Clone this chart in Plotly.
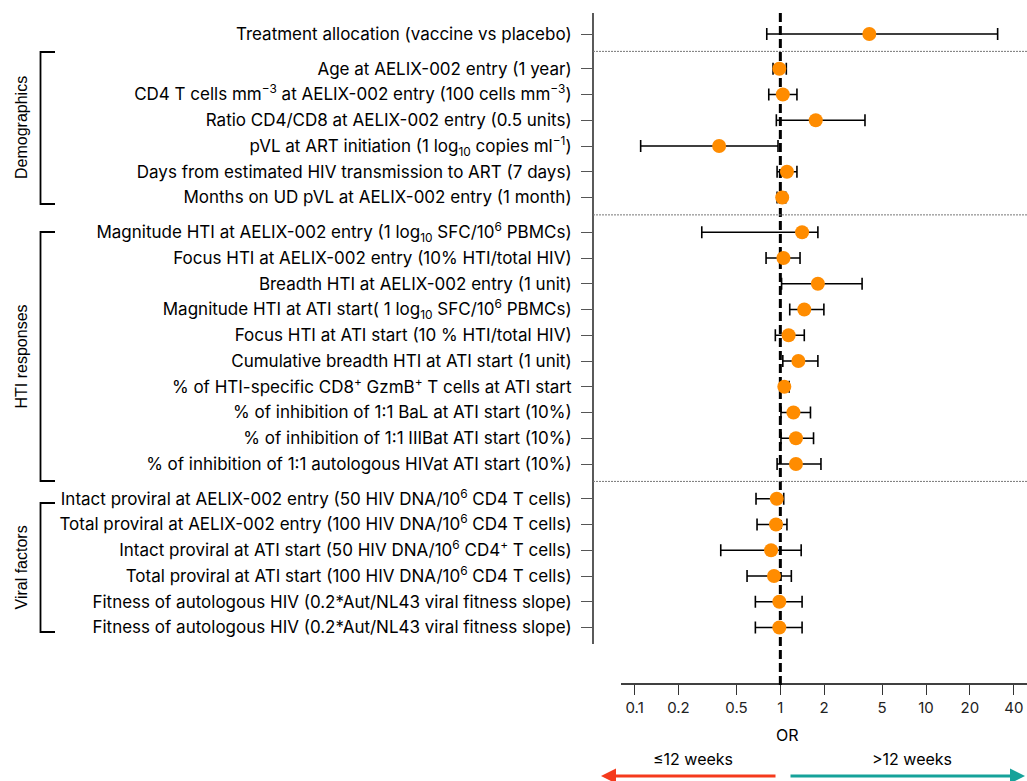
import numpy as np
import plotly.graph_objects as go

labels = [
    "Treatment allocation (vaccine vs placebo)",
    "Age at AELIX-002 entry (1 year)",
    "CD4 T cells mm<sup>−3</sup> at AELIX-002 entry (100 cells mm<sup>−3</sup>)",
    "Ratio CD4/CD8 at AELIX-002 entry (0.5 units)",
    "pVL at ART initiation (1 log<sub>10</sub> copies ml<sup>−1</sup>)",
    "Days from estimated HIV transmission to ART (7 days)",
    "Months on UD pVL at AELIX-002 entry (1 month)",
    "Magnitude HTI at AELIX-002 entry (1 log<sub>10</sub> SFC/10<sup>6</sup> PBMCs)",
    "Focus HTI at AELIX-002 entry (10% HTI/total HIV)",
    "Breadth HTI at AELIX-002 entry (1 unit)",
    "Magnitude HTI at ATI start( 1 log<sub>10</sub> SFC/10<sup>6</sup> PBMCs)",
    "Focus HTI at ATI start (10 % HTI/total HIV)",
    "Cumulative breadth HTI at ATI start (1 unit)",
    "% of HTI-specific CD8<sup>+</sup> GzmB<sup>+</sup> T cells at ATI start",
    "% of inhibition of 1:1 BaL at ATI start (10%)",
    "% of inhibition of 1:1 IIIBat ATI start (10%)",
    "% of inhibition of 1:1 autologous HIVat ATI start (10%)",
    "Intact proviral at AELIX-002 entry (50 HIV DNA/10<sup>6</sup> CD4 T cells)",
    "Total proviral at AELIX-002 entry (100 HIV DNA/10<sup>6</sup> CD4 T cells)",
    "Intact proviral at ATI start (50 HIV DNA/10<sup>6</sup> CD4<sup>+</sup> T cells)",
    "Total proviral at ATI start (100 HIV DNA/10<sup>6</sup> CD4 T cells)",
    "Fitness of autologous HIV (0.2*Aut/NL43 viral fitness slope)",
    "Fitness of autologous HIV (0.2*Aut/NL43 viral fitness slope)",
]
groups = ["Treatment"] + ["Demographics"] * 6 + ["HTI responses"] * 10 + ["Viral factors"] * 6

odds_ratio = [4.08, 0.984, 1.04, 1.75, 0.38, 1.11, 1.03,
              1.41, 1.05, 1.81, 1.46, 1.14, 1.33, 1.065, 1.23, 1.28, 1.28,
              0.945, 0.934, 0.864, 0.905, 0.984, 0.984]
ci_low = [0.807, 0.891, 0.833, 0.939, 0.110, 0.95, 0.95,
          0.289, 0.798, 1.02, 1.16, 0.924, 1.04, 1.0, 1.01, 1.01, 0.95,
          0.681, 0.692, 0.390, 0.591, 0.674, 0.674]
ci_high = [31.0, 1.099, 1.30, 3.81, 0.964, 1.30, 1.09,
           1.81, 1.365, 3.64, 1.99, 1.46, 1.81, 1.15, 1.61, 1.69, 1.90,
           1.055, 1.11, 1.39, 1.19, 1.41, 1.41]

x_ticks = [0.1, 0.2, 0.5, 1, 2, 5, 10, 20, 40]
x_ticktext = ["0.1", "0.2", "0.5", "1", "2", "5", "10", "20", "40"]

# row positions (with extra gap between groups)
GAP = 1.35
ypos = []
cur = 0.0
for i, g in enumerate(groups):
    if i > 0:
        cur += GAP if g != groups[i - 1] else 1.0
    ypos.append(cur)

orange = "#FF8C00"
LABEL_FONT = "Inter"

fig = go.Figure()

fig.add_trace(go.Scatter(
    x=odds_ratio, y=ypos, mode="markers",
    marker=dict(color=orange, size=14, line=dict(width=0)),
    error_x=dict(type="data", symmetric=False,
                 array=[h - o for h, o in zip(ci_high, odds_ratio)],
                 arrayminus=[o - l for o, l in zip(odds_ratio, ci_low)],
                 color="black", thickness=1.6, width=6),
    showlegend=False, hoverinfo="skip",
))

W_PLOT = 1027 - 593
H_PLOT = 684 - 13

def px_x(px):
    return (px - 593) / W_PLOT

def px_y(py):
    return (684 - py) / H_PLOT

shapes = []
# reference line at OR = 1
shapes.append(dict(type="line", xref="x", yref="paper", x0=1, x1=1, y0=px_y(685), y1=1,
                   line=dict(color="black", width=3, dash="9px,4px"), layer="below"))
# y axis line (shortened)
shapes.append(dict(type="line", xref="paper", yref="paper", x0=0, x1=0, y0=px_y(644), y1=1,
                   line=dict(color="black", width=1.3)))
# x axis line (starts right of y axis)
shapes.append(dict(type="line", xref="paper", yref="paper", x0=px_x(621), x1=1, y0=0, y1=0,
                   line=dict(color="black", width=1.3)))
# dotted separators between groups
for i in range(1, len(groups)):
    if groups[i] != groups[i - 1]:
        ym = (ypos[i] + ypos[i - 1]) / 2
        shapes.append(dict(type="line", xref="paper", yref="y", x0=0, x1=1, y0=ym, y1=ym,
                           line=dict(color="#777777", width=1, dash="2px,1px")))

# group brackets
bx0, bx1 = px_x(40.5), px_x(55)
brackets = {"Demographics": (52, 204), "HTI responses": (232, 481), "Viral factors": (503, 632)}
for name, (t, b) in brackets.items():
    shapes.append(dict(type="path", xref="paper", yref="paper",
                       path=f"M {bx1} {px_y(t)} L {bx0} {px_y(t)} L {bx0} {px_y(b)} L {bx1} {px_y(b)}",
                       line=dict(color="black", width=1.8)))

annotations = []
for name, (t, b) in brackets.items():
    annotations.append(dict(text=name, xref="paper", yref="paper", x=px_x(21), y=px_y((t + b) / 2),
                            showarrow=False, textangle=-90, xanchor="center", yanchor="middle",
                            font=dict(family="Liberation Sans, Arial", size=16, color="black")))

annotations.append(dict(text="OR", xref="paper", yref="paper", x=px_x(787), y=px_y(735),
                        showarrow=False, xanchor="center", yanchor="middle",
                        font=dict(family=LABEL_FONT, size=16, color="black")))
annotations.append(dict(text="≤12 weeks", xref="paper", yref="paper", x=px_x(693), y=px_y(759),
                        showarrow=False, xanchor="center", yanchor="middle",
                        font=dict(family=LABEL_FONT, size=16, color="black")))
annotations.append(dict(text=">12 weeks", xref="paper", yref="paper", x=px_x(912), y=px_y(759),
                        showarrow=False, xanchor="center", yanchor="middle",
                        font=dict(family=LABEL_FONT, size=16, color="black")))
# arrows
annotations.append(dict(text="", xref="paper", yref="paper", x=px_x(601), y=px_y(776),
                        ax=777 - 601, ay=0, showarrow=True, arrowhead=2, arrowsize=1,
                        arrowwidth=3, arrowcolor="#F53A1C"))
annotations.append(dict(text="", xref="paper", yref="paper", x=px_x(1025), y=px_y(776),
                        ax=789 - 1025, ay=0, showarrow=True, arrowhead=2, arrowsize=1,
                        arrowwidth=3, arrowcolor="#16A29A"))

fig.update_layout(
    width=1027, height=781,
    margin=dict(l=593, r=0, t=13, b=781 - 684, pad=0),
    plot_bgcolor="white", paper_bgcolor="white",
    shapes=shapes, annotations=annotations,
    xaxis=dict(type="log", range=[np.log10(0.0518), np.log10(49.3)],
               tickvals=x_ticks, ticktext=x_ticktext, ticks="outside", ticklen=10,
               tickwidth=1.3, tickcolor="#333333", showline=False, showgrid=False, zeroline=False,
               tickfont=dict(family=LABEL_FONT, size=15, color="#222222")),
    yaxis=dict(range=[(684 - 34) / 25.75, (13 - 34) / 25.75],
               tickvals=ypos, ticktext=labels, ticks="outside", ticklen=11, tickwidth=1.3,
               tickcolor="#555555", showline=False, showgrid=False, zeroline=False,
               ticklabelstandoff=6,
               tickfont=dict(family=LABEL_FONT, size=17, color="black")),
)

fig.write_html("out.html")
